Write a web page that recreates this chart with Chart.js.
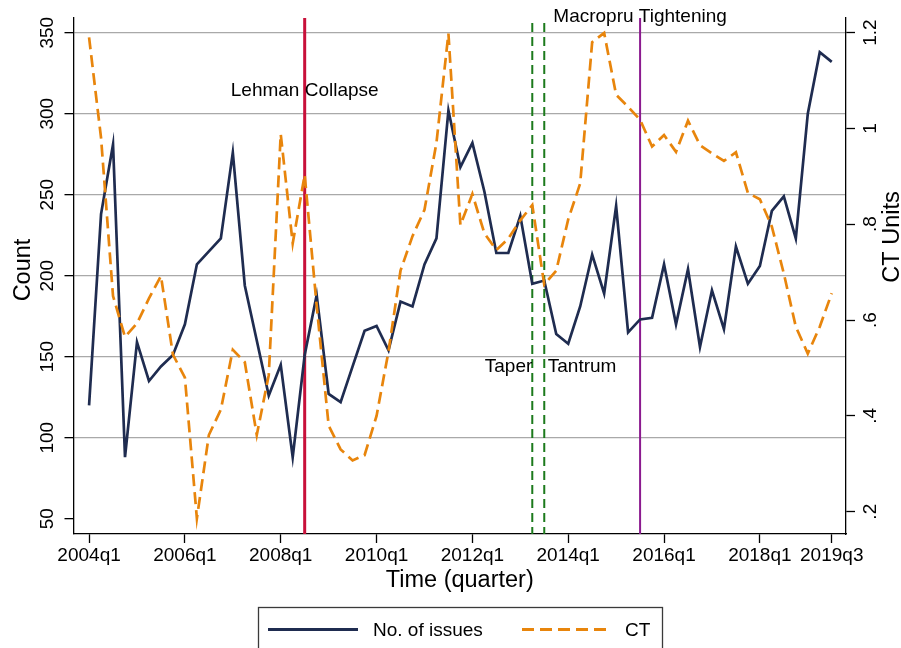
<!DOCTYPE html>
<html>
<head>
<meta charset="utf-8">
<script src="https://cdn.jsdelivr.net/npm/chart.js@4.4.1/dist/chart.umd.min.js"></script>
<style>
  html, body { margin: 0; padding: 0; background: #fff; }
  #wrap { width: 901px; height: 648px; position: relative; }
</style>
</head>
<body>
<div id="wrap"><canvas id="chart" width="901" height="648"></canvas></div>
<script>
// Quarterly categories, 2004q1 .. 2019q3
const quarters = [];
for (let yr = 2004; yr <= 2019; yr++) {
  for (let q = 1; q <= 4; q++) {
    if (yr === 2019 && q > 3) break;
    quarters.push(yr + 'q' + q);
  }
}

// Number of issues per quarter (left axis)
const issues = [120, 238, 281, 88, 159, 135, 144, 151, 170, 207,
                215, 223, 276, 194, 160, 126, 145, 88, 151, 188,
                127, 122, 144, 166, 169, 154, 184, 181, 207, 223,
                302, 267, 282, 252, 214, 214, 237, 195, 197, 164,
                158, 181, 213, 189, 243, 165, 173, 174, 207, 170,
                204, 156, 191, 167, 218, 195, 206, 240, 249, 223,
                300, 338, 332];

// CT units per quarter (right axis)
const ct = [1.19, 0.98, 0.65, 0.565, 0.593, 0.645, 0.692, 0.528, 0.48, 0.186,
            0.36, 0.413, 0.538, 0.512, 0.36, 0.485, 0.988, 0.76, 0.903, 0.63,
            0.38, 0.33, 0.307, 0.318, 0.40, 0.535, 0.703, 0.775, 0.83, 0.97,
            1.198, 0.798, 0.863, 0.781, 0.746, 0.77, 0.808, 0.84, 0.674, 0.703,
            0.81, 0.885, 1.18, 1.199, 1.07, 1.045, 1.018, 0.962, 0.986, 0.951,
            1.016, 0.965, 0.948, 0.932, 0.95, 0.865, 0.852, 0.795, 0.697, 0.586,
            0.53, 0.586, 0.656];

// Axis ticks
const xTickLabels = ['2004q1', '2006q1', '2008q1', '2010q1', '2012q1', '2014q1', '2016q1', '2018q1', '2019q3'];
const countTicks = [50, 100, 150, 200, 250, 300, 350];
const ctTicks = [0.2, 0.4, 0.6, 0.8, 1.0, 1.2];
const ctTickLabels = ['.2', '.4', '.6', '.8', '1', '1.2'];

// Event markers
const eventQuarters = ['2008q3', '2013q2', '2013q3', '2015q3'];
const eventNames = ['Lehman Collapse', 'Taper', 'Tantrum', 'Macropru Tightening'];

const FONT = '"Liberation Sans", Arial, Helvetica, sans-serif';
const NAVY = '#1f2c50';
const ORANGE = '#e8850c';

const eventStyle = [
  { color: '#c8103a', width: 3, dash: [], topGap: 0 },
  { color: '#1c7a1c', width: 2, dash: [9, 5], topGap: 5 },
  { color: '#1c7a1c', width: 2, dash: [9, 5], topGap: 5 },
  { color: '#8b1a8f', width: 2, dash: [], topGap: 0 }
];

const xIndex = q => quarters.indexOf(q);

// Vertical event lines, drawn under the series
const eventLines = {
  id: 'eventLines',
  beforeDatasetsDraw(chart) {
    const { ctx, chartArea: a, scales: { x } } = chart;
    ctx.save();
    eventQuarters.forEach((q, i) => {
      const st = eventStyle[i];
      const px = x.getPixelForValue(xIndex(q));
      ctx.strokeStyle = st.color;
      ctx.lineWidth = st.width;
      ctx.setLineDash(st.dash);
      ctx.beginPath();
      ctx.moveTo(px, a.top + st.topGap);
      ctx.lineTo(px, a.bottom);
      ctx.stroke();
    });
    ctx.restore();
  }
};

// Axis labels, titles, event captions and the legend box
const frameText = {
  id: 'frameText',
  afterDraw(chart) {
    const { ctx, chartArea: a, scales: { x, y, y1 } } = chart;
    ctx.save();
    ctx.fillStyle = '#000';
    ctx.setLineDash([]);

    // rotated tick labels on both value axes
    ctx.font = '19px ' + FONT;
    ctx.textAlign = 'center';
    ctx.textBaseline = 'alphabetic';
    countTicks.forEach(v => {
      ctx.save();
      ctx.translate(y.right - 21, y.getPixelForValue(v));
      ctx.rotate(-Math.PI / 2);
      ctx.fillText(String(v), 0, 0);
      ctx.restore();
    });
    ctTicks.forEach((v, i) => {
      ctx.save();
      ctx.translate(y1.left + 29.5, y1.getPixelForValue(v));
      ctx.rotate(-Math.PI / 2);
      ctx.fillText(ctTickLabels[i], 0, 0);
      ctx.restore();
    });

    // axis titles
    ctx.font = '23.5px ' + FONT;
    ctx.save();
    ctx.translate(30, 270);
    ctx.rotate(-Math.PI / 2);
    ctx.fillText('Count', 0, 0);
    ctx.restore();
    ctx.save();
    ctx.translate(899, 237);
    ctx.rotate(-Math.PI / 2);
    ctx.fillText('CT Units', 0, 0);
    ctx.restore();
    ctx.fillText('Time (quarter)', (a.left + a.right) / 2, 586.5);

    // event captions
    ctx.font = '19px ' + FONT;
    const lehmanX = x.getPixelForValue(xIndex(eventQuarters[0]));
    ctx.textAlign = 'center';
    ctx.fillText(eventNames[0], lehmanX, y.getPixelForValue(311));
    const taperX = x.getPixelForValue(xIndex(eventQuarters[1]));
    ctx.textAlign = 'right';
    ctx.fillText(eventNames[1], taperX, y.getPixelForValue(140.6));
    const tantrumX = x.getPixelForValue(xIndex(eventQuarters[2]));
    ctx.textAlign = 'left';
    ctx.fillText(eventNames[2], tantrumX + 3.5, y.getPixelForValue(140.6));
    const macroX = x.getPixelForValue(xIndex(eventQuarters[3]));
    ctx.textAlign = 'center';
    ctx.fillText(eventNames[3], macroX, a.top + 4);

    // legend
    const ds = chart.data.datasets;
    ctx.strokeStyle = '#3a3a3a';
    ctx.lineWidth = 1.3;
    ctx.strokeRect(258.5, 607.5, 404, 60);
    const rowY = 629.5;
    ctx.lineWidth = ds[0].borderWidth + 0.3;
    ctx.strokeStyle = ds[0].borderColor;
    ctx.beginPath(); ctx.moveTo(268, rowY); ctx.lineTo(358, rowY); ctx.stroke();
    ctx.strokeStyle = ds[1].borderColor;
    ctx.setLineDash(ds[1].borderDash);
    ctx.beginPath(); ctx.moveTo(522, rowY); ctx.lineTo(612, rowY); ctx.stroke();
    ctx.setLineDash([]);
    ctx.textAlign = 'left';
    ctx.fillStyle = '#000';
    ctx.fillText(ds[0].label, 373, 636);
    ctx.fillText(ds[1].label, 625, 636);
    ctx.restore();
  }
};

const chart = new Chart(document.getElementById('chart'), {
  type: 'line',
  data: {
    datasets: [
      {
        label: 'No. of issues',
        data: issues.map((v, i) => ({ x: i, y: v })),
        yAxisID: 'y',
        borderColor: NAVY,
        borderWidth: 2.7,
        pointRadius: 0,
        tension: 0,
        fill: false,
        order: 1
      },
      {
        label: 'CT',
        data: ct.map((v, i) => ({ x: i, y: v })),
        yAxisID: 'y1',
        borderColor: ORANGE,
        borderWidth: 2.7,
        borderDash: [12, 6],
        pointRadius: 0,
        tension: 0,
        fill: false,
        order: 0
      }
    ]
  },
  options: {
    responsive: false,
    animation: false,
    devicePixelRatio: 1,
    layout: { padding: { top: 18, left: 0, right: 0, bottom: 0 } },
    plugins: {
      legend: { display: false },
      tooltip: { enabled: false }
    },
    scales: {
      x: {
        type: 'linear',
        position: 'bottom',
        min: -1.3,
        max: 63.19,
        afterBuildTicks: s => { s.ticks = xTickLabels.map(l => ({ value: xIndex(l) })); },
        afterFit: s => { s.height = 114; },
        ticks: {
          autoSkip: false,
          maxRotation: 0,
          minRotation: 0,
          padding: 1,
          color: '#000',
          font: { family: FONT, size: 19 },
          callback: v => quarters[v]
        },
        grid: {
          drawOnChartArea: false,
          drawTicks: true,
          tickLength: 9,
          tickColor: '#000',
          tickWidth: 1.3
        },
        border: { color: '#000', width: 1.3 }
      },
      y: {
        type: 'linear',
        position: 'left',
        min: 40.56,
        max: 359.07,
        afterBuildTicks: s => { s.ticks = countTicks.map(v => ({ value: v })); },
        afterFit: s => { s.width = 73.5; },
        ticks: { display: false },
        grid: {
          color: c => (c.tick && c.tick.value === 50) ? 'rgba(0,0,0,0)' : '#a9a9a9',
          lineWidth: 1.3,
          drawTicks: true,
          tickLength: 9,
          tickColor: '#000',
          tickWidth: 1.3
        },
        border: { color: '#000', width: 1.3 }
      },
      y1: {
        type: 'linear',
        position: 'right',
        min: 0.1535,
        max: 1.2303,
        afterBuildTicks: s => { s.ticks = ctTicks.map(v => ({ value: v })); },
        afterFit: s => { s.width = 55; },
        ticks: { display: false },
        grid: {
          drawOnChartArea: false,
          drawTicks: true,
          tickLength: 9,
          tickColor: '#000',
          tickWidth: 1.3
        },
        border: { color: '#000', width: 1.3 }
      }
    }
  },
  plugins: [eventLines, frameText]
});
</script>
</body>
</html>
